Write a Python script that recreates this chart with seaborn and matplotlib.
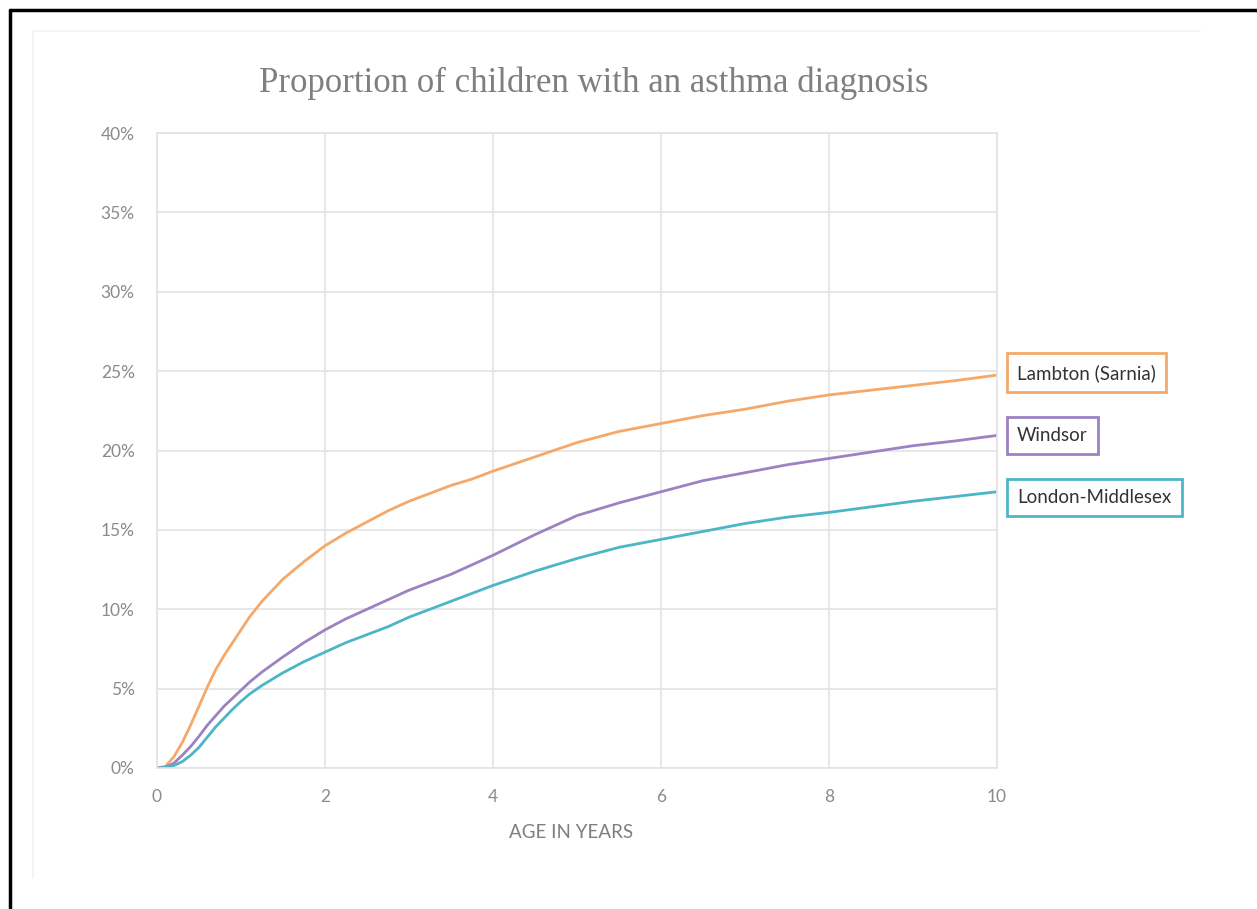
import numpy as np
import pandas as pd
import matplotlib
matplotlib.use("Agg")
import matplotlib.pyplot as plt
from matplotlib.ticker import PercentFormatter, MultipleLocator
from matplotlib.lines import Line2D
import seaborn as sns

# Age (years) at which the cumulative proportion was read
age = [0, 0.1, 0.2, 0.3, 0.4, 0.5, 0.6, 0.7, 0.8, 0.9, 1.0, 1.1, 1.25, 1.5, 1.75,
       2.0, 2.25, 2.5, 2.75, 3.0, 3.25, 3.5, 3.75, 4.0, 4.5, 5.0, 5.5, 6.0, 6.5,
       7.0, 7.5, 8.0, 8.5, 9.0, 9.5, 10.0]

# Cumulative % of children with an asthma diagnosis
lambton = [0, 0.1, 0.7, 1.6, 2.7, 3.9, 5.1, 6.2, 7.1, 7.9, 8.7, 9.5, 10.5, 11.9, 13.0,
           14.0, 14.8, 15.5, 16.2, 16.8, 17.3, 17.8, 18.2, 18.7, 19.6, 20.5, 21.2, 21.7, 22.2,
           22.6, 23.1, 23.5, 23.8, 24.1, 24.4, 24.75]
windsor = [0, 0.05, 0.3, 0.8, 1.35, 2.0, 2.7, 3.3, 3.9, 4.4, 4.9, 5.4, 6.05, 7.0, 7.9,
           8.7, 9.4, 10.0, 10.6, 11.2, 11.7, 12.2, 12.8, 13.4, 14.7, 15.9, 16.7, 17.4, 18.1,
           18.6, 19.1, 19.5, 19.9, 20.3, 20.6, 20.95]
london = [0, 0.02, 0.15, 0.4, 0.8, 1.3, 1.95, 2.6, 3.15, 3.7, 4.2, 4.65, 5.2, 6.0, 6.7,
          7.3, 7.9, 8.4, 8.9, 9.5, 10.0, 10.5, 11.0, 11.5, 12.4, 13.2, 13.9, 14.4, 14.9,
          15.4, 15.8, 16.1, 16.45, 16.8, 17.1, 17.4]

regions = ["Lambton (Sarnia)", "Windsor", "London-Middlesex"]
colors = ["#F4A96A", "#9C82C2", "#4CB5C6"]

df = pd.concat([
    pd.DataFrame({"age": age, "pct": vals, "region": name})
    for name, vals in zip(regions, [lambton, windsor, london])
])

sns.set_theme(style="white")
plt.rcParams["font.family"] = ["Lato", "DejaVu Sans"]

fig = plt.figure(figsize=(12.57, 9.09), dpi=100)
ax = fig.add_axes([157 / 1257, 1 - 768 / 909, 840 / 1257, 635 / 909])

sns.lineplot(data=df, x="age", y="pct", hue="region", hue_order=regions,
             palette=colors, linewidth=2.0, legend=False, ax=ax)

ax.set_xlim(0, 10)
ax.set_ylim(0, 40)
ax.xaxis.set_major_locator(MultipleLocator(2))
ax.yaxis.set_major_locator(MultipleLocator(5))
ax.yaxis.set_major_formatter(PercentFormatter(xmax=100, decimals=0))
ax.grid(True, color="#E3E3E3", linewidth=1.2)
for s in ax.spines.values():
    s.set_color("#E3E3E3")
    s.set_linewidth(1.2)
ax.tick_params(axis="both", length=0, labelsize=12.5, labelcolor="#8A8A8A")
ax.tick_params(axis="y", pad=16)
ax.tick_params(axis="x", pad=15)
ax.set_xlabel("")
ax.set_ylabel("")

# Region labels boxed at the end of each curve
ends = [lambton[-1], windsor[-1], london[-1]]
offsets = [0.15, 0.0, -0.35]
for name, col, yv, off in zip(regions, colors, ends, offsets):
    ax.text(10.24, yv + off, name, ha="left", va="center", fontsize=13.5,
            color="#333333", clip_on=False,
            bbox=dict(boxstyle="square,pad=0.55", fc="white", ec=col, lw=2.0))

fig.text(594 / 1257, 1 - 83 / 909, "Proportion of children with an asthma diagnosis",
         ha="center", va="center", fontsize=25, color="#7F7F7F",
         family=["Liberation Serif", "DejaVu Serif"])
fig.text(571 / 1257, 1 - 833 / 909, "AGE IN YEARS", ha="center", va="center",
         fontsize=13.5, color="#7F7F7F")

# Page frame
fig.add_artist(Line2D([10 / 1257, 10 / 1257], [0, 1 - 10 / 909], color="black", lw=2.5))
fig.add_artist(Line2D([10 / 1257, 1], [1 - 10 / 909, 1 - 10 / 909], color="black", lw=2.5))
fig.add_artist(Line2D([33 / 1257, 33 / 1257], [1 - 878 / 909, 1 - 31 / 909], color="#F2F2F2", lw=1.2))
fig.add_artist(Line2D([33 / 1257, 1200 / 1257], [1 - 31 / 909, 1 - 31 / 909], color="#F2F2F2", lw=1.2))

fig.savefig("out.png", dpi=100, facecolor="white")
